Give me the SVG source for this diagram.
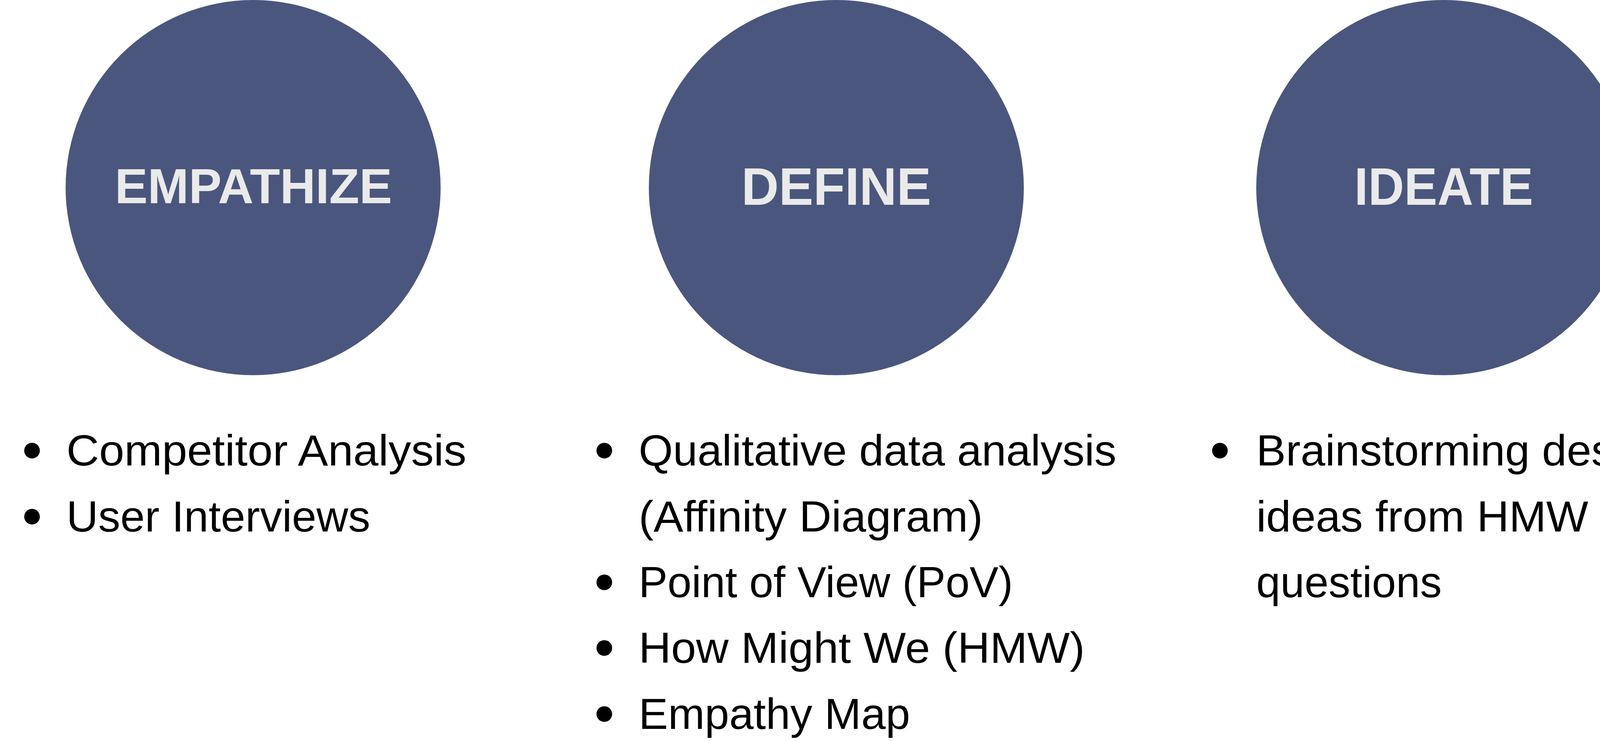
<svg xmlns="http://www.w3.org/2000/svg" xmlns:xlink="http://www.w3.org/1999/xlink" width="7308" height="1896" viewBox="0 0 7308 1896">
  <style>
    .phase { fill: #4A567D; }
    .head { font-family: "Liberation Sans", Arial, sans-serif; font-weight: 700; fill: #EAEAEA; text-anchor: middle; }
    .h1 { font-size: 135px; }
    .h2 { font-size: 127px; }
    .item { font-family: "Liberation Sans", Arial, sans-serif; font-size: 112px; fill: #000000; }
    .dot { fill: #000000; }
  </style>
  <defs>
    <circle id="bullet" r="20" cx="0" cy="0"/>
  </defs>
  <rect width="7308" height="1896" fill="#FFFFFF"/>

  <g id="empathize">
    <circle class="phase" cx="648" cy="480" r="480"/>
    <text class="head h2" x="649" y="520" textLength="710" lengthAdjust="spacingAndGlyphs">EMPATHIZE</text>
    <use href="#bullet" xlink:href="#bullet" class="dot" x="82" y="1153"/>
    <text class="item" x="170" y="1191" textLength="1024" lengthAdjust="spacingAndGlyphs">Competitor Analysis</text>
    <use href="#bullet" xlink:href="#bullet" class="dot" x="82" y="1322"/>
    <text class="item" x="170" y="1360" textLength="778" lengthAdjust="spacingAndGlyphs">User Interviews</text>
  </g>

  <g id="define">
    <circle class="phase" cx="2141" cy="480" r="480"/>
    <text class="head h1" x="2141" y="524" textLength="486" lengthAdjust="spacingAndGlyphs">DEFINE</text>
    <use href="#bullet" xlink:href="#bullet" class="dot" x="1547" y="1153"/>
    <text class="item" x="1635" y="1191" textLength="1223" lengthAdjust="spacingAndGlyphs">Qualitative data analysis</text>
    <text class="item" x="1635" y="1360" textLength="881" lengthAdjust="spacingAndGlyphs">(Affinity Diagram)</text>
    <use href="#bullet" xlink:href="#bullet" class="dot" x="1547" y="1490"/>
    <text class="item" x="1635" y="1528" textLength="958" lengthAdjust="spacingAndGlyphs">Point of View (PoV)</text>
    <use href="#bullet" xlink:href="#bullet" class="dot" x="1547" y="1658"/>
    <text class="item" x="1635" y="1696" textLength="1142" lengthAdjust="spacingAndGlyphs">How Might We (HMW)</text>
    <use href="#bullet" xlink:href="#bullet" class="dot" x="1547" y="1827"/>
    <text class="item" x="1635" y="1865" textLength="695" lengthAdjust="spacingAndGlyphs">Empathy Map</text>
  </g>

  <g id="ideate">
    <circle class="phase" cx="3696" cy="480" r="480"/>
    <text class="head h1" x="3696" y="524" textLength="458" lengthAdjust="spacingAndGlyphs">IDEATE</text>
    <use href="#bullet" xlink:href="#bullet" class="dot" x="3123" y="1153"/>
    <text class="item" x="3216" y="1191" textLength="1066" lengthAdjust="spacingAndGlyphs">Brainstorming design</text>
    <text class="item" x="3216" y="1360" textLength="850" lengthAdjust="spacingAndGlyphs">ideas from HMW</text>
    <text class="item" x="3216" y="1528" textLength="475" lengthAdjust="spacingAndGlyphs">questions</text>
  </g>

  <g id="prototype">
    <circle class="phase" cx="5275" cy="480" r="480"/>
    <text class="head h2" x="5276" y="520" textLength="755" lengthAdjust="spacingAndGlyphs">PROTOTYPE</text>
    <use href="#bullet" xlink:href="#bullet" class="dot" x="4739" y="1153"/>
    <text class="item" x="4830" y="1191" textLength="1093" lengthAdjust="spacingAndGlyphs">Experience Prototype</text>
    <use href="#bullet" xlink:href="#bullet" class="dot" x="4739" y="1322"/>
    <text class="item" x="4830" y="1360" textLength="876" lengthAdjust="spacingAndGlyphs">Paper Prototypes</text>
    <use href="#bullet" xlink:href="#bullet" class="dot" x="4739" y="1490"/>
    <text class="item" x="4830" y="1528" textLength="753" lengthAdjust="spacingAndGlyphs">Low, Mid, High</text>
    <text class="item" x="4830" y="1696" textLength="952" lengthAdjust="spacingAndGlyphs">Fidelity Prototypes</text>
  </g>

  <g id="test">
    <circle class="phase" cx="6726" cy="480" r="480"/>
    <text class="head h1" x="6725" y="524" textLength="319" lengthAdjust="spacingAndGlyphs">TEST</text>
    <use href="#bullet" xlink:href="#bullet" class="dot" x="6224" y="1153"/>
    <text class="item" x="6314" y="1191" textLength="803" lengthAdjust="spacingAndGlyphs">Usability testing</text>
    <use href="#bullet" xlink:href="#bullet" class="dot" x="6224" y="1322"/>
    <text class="item" x="6314" y="1360" textLength="986" lengthAdjust="spacingAndGlyphs">Heuristic evaluation</text>
  </g>

  <g id="connectors"/>
</svg>
